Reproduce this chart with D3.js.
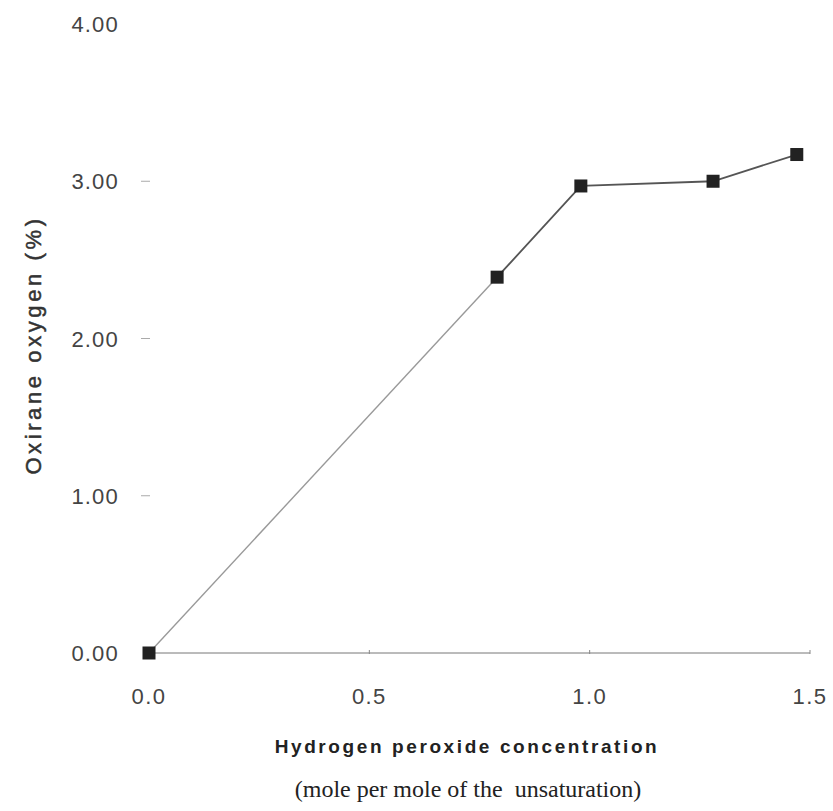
<!DOCTYPE html>
<html>
<head>
<meta charset="utf-8">
<script src="https://cdn.jsdelivr.net/npm/d3@7"></script>
<style>
  body { margin: 0; background: #fff; }
  svg { display: block; }
</style>
</head>
<body>
<svg id="chart"></svg>
<script>
// data
const h2o2 = [0, 0.79, 0.98, 1.28, 1.47];
const oxirane = [0, 2.39, 2.97, 3.0, 3.17];
const yTicks = [0, 1, 2, 3, 4];
const xTicks = [0, 0.5, 1.0, 1.5];

const width = 833, height = 811;
const svg = d3.select("#chart")
    .attr("width", width)
    .attr("height", height);

const x = d3.scaleLinear().domain([0, 1.5]).range([149, 810]);
const y = d3.scaleLinear().domain([0, 4]).range([653, 24]);

// x axis (line + small ticks)
svg.append("line")
    .attr("x1", x(0)).attr("x2", x(1.5))
    .attr("y1", y(0)).attr("y2", y(0))
    .attr("stroke", "#777").attr("stroke-width", 1);

svg.append("g").selectAll("line")
  .data(xTicks.slice(1))
  .join("line")
    .attr("x1", d => x(d)).attr("x2", d => x(d))
    .attr("y1", y(0) - 3).attr("y2", y(0) + 1)
    .attr("stroke", "#888");

svg.append("g").selectAll("text")
  .data(xTicks)
  .join("text")
    .attr("x", d => x(d))
    .attr("y", 704)
    .attr("text-anchor", "middle")
    .attr("font-family", "Liberation Sans, Arial, sans-serif")
    .attr("font-size", 22)
    .attr("letter-spacing", 1.4)
    .attr("fill", "#444")
    .text(d => d.toFixed(1));

// y axis: no line, only tiny ticks
svg.append("g").selectAll("line")
  .data(yTicks.filter(d => d > 0 && d < 4))
  .join("line")
    .attr("x1", 141).attr("x2", 150)
    .attr("y1", d => y(d)).attr("y2", d => y(d))
    .attr("stroke", "#aaa");

svg.append("g").selectAll("text")
  .data(yTicks)
  .join("text")
    .attr("x", 119)
    .attr("y", d => y(d) + 8)
    .attr("text-anchor", "end")
    .attr("font-family", "Liberation Sans, Arial, sans-serif")
    .attr("font-size", 22)
    .attr("letter-spacing", 1.2)
    .attr("fill", "#444")
    .text(d => d.toFixed(2));

// series
const pts = h2o2.map((d, i) => [d, oxirane[i]]);
const line = d3.line().x(d => x(d[0])).y(d => y(d[1]));

svg.append("path")
    .datum(pts.slice(0, 2))
    .attr("d", line)
    .attr("fill", "none")
    .attr("stroke", "#999")
    .attr("stroke-width", 1.4);

svg.append("path")
    .datum(pts.slice(1))
    .attr("d", line)
    .attr("fill", "none")
    .attr("stroke", "#555")
    .attr("stroke-width", 1.8);

svg.append("g").selectAll("rect")
  .data(pts)
  .join("rect")
    .attr("x", d => x(d[0]) - 6.5)
    .attr("y", d => y(d[1]) - 6.5)
    .attr("width", 13).attr("height", 13)
    .attr("fill", "#222");

// axis titles
svg.append("text")
    .attr("transform", "translate(41, 345) rotate(-90)")
    .attr("text-anchor", "middle")
    .attr("font-family", "Liberation Sans, Arial, sans-serif")
    .attr("font-size", 22)
    .attr("letter-spacing", 3.6)
    .attr("fill", "#333")
    .attr("stroke", "#333")
    .attr("stroke-width", 0.5)
    .text("Oxirane oxygen (%)");

svg.append("text")
    .attr("x", 467).attr("y", 753)
    .attr("text-anchor", "middle")
    .attr("font-family", "Liberation Sans, Arial, sans-serif")
    .attr("font-size", 19)
    .attr("font-weight", "bold")
    .attr("letter-spacing", 2.6)
    .attr("fill", "#222")
    .text("Hydrogen peroxide concentration");

svg.append("text")
    .attr("x", 468).attr("y", 797)
    .attr("text-anchor", "middle")
    .attr("font-family", "Liberation Serif, Times New Roman, serif")
    .attr("font-size", 24)
    .attr("fill", "#222")
    .style("white-space", "pre")
    .text("(mole per mole of the  unsaturation)");
</script>
</body>
</html>
